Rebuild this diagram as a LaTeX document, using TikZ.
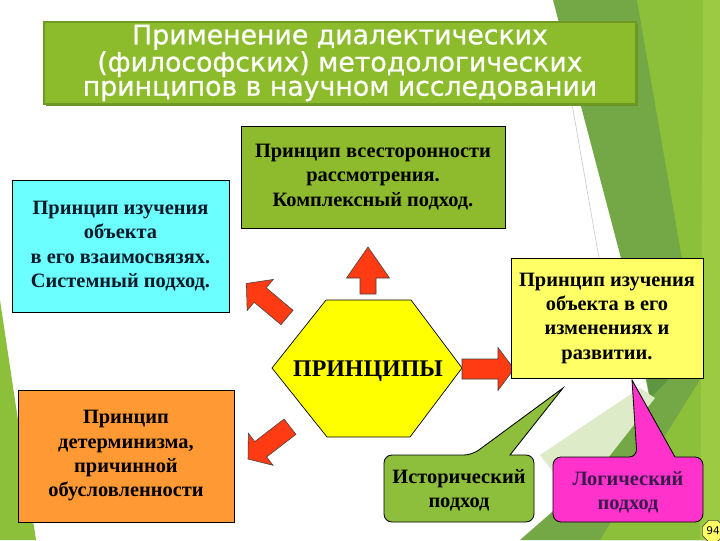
\documentclass[tikz,border=0pt]{standalone}
\usepackage{fontspec}
\setmainfont{Liberation Serif}
\newfontfamily\titlefont{DejaVu Sans}[FakeBold=0.8]
\newfontfamily\pagefont{DejaVu Sans}
\usetikzlibrary{shapes.geometric}
\definecolor{titlegreen}{HTML}{8CBC2C}
\definecolor{titleedge}{HTML}{6E9A22}
\definecolor{titleshadow}{HTML}{6A9228}
\definecolor{boxgreen}{HTML}{8DBB2D}
\definecolor{boxcyan}{HTML}{6CFFFF}
\definecolor{boxyellow}{HTML}{FFFF66}
\definecolor{boxorange}{HTML}{FF9933}
\definecolor{hexyellow}{HTML}{FFFF00}
\definecolor{arrowred}{HTML}{FF3B14}
\definecolor{callgreen}{HTML}{8DBE3C}
\definecolor{callmagenta}{HTML}{FF33CC}
\definecolor{magtext}{HTML}{3C1A4E}
\definecolor{cyantext}{HTML}{0A1A28}
\definecolor{bgA}{HTML}{74A846}
\definecolor{bgB}{HTML}{8CBF3A}
\definecolor{bgC}{HTML}{9CCB43}
\definecolor{bgD}{HTML}{5F9440}
\definecolor{bgpale}{HTML}{DDEBC9}
\definecolor{bgleft}{HTML}{8DC03A}
\definecolor{pagebg}{HTML}{FFFF66}
\def\pu{0.025cm}
\newcommand\redblockarrow[7]{%
  \begin{scope}[shift={(#1,#2)},rotate=#3]
    \draw[redarrow] (0,-#5) -- (#4,-#5) -- (#4,-#6) -- ({#4+#7},0) -- (#4,#6) -- (#4,#5) -- (0,#5) -- cycle;
  \end{scope}}
\begin{document}
\begin{tikzpicture}[x=0.025cm,y=-0.025cm,
  box/.style={draw=black, line width=0.6pt, align=center, inner sep=0pt,
    font=\bfseries\fontsize{14.5}{17.3}\selectfont},
  callout/.style={draw=black, line width=0.6pt},
  redarrow/.style={fill=arrowred, draw=black!75, line width=0.4pt, line join=miter},
  titletext/.style={align=center, inner sep=0pt, text=white,
    font=\titlefont\fontsize{19}{17.2}\selectfont}]
\useasboundingbox (0,0) rectangle (720,540);
\clip (0,0) rectangle (720,540);
% background facets
\fill[white] (0,0) rectangle (720,540);
\fill[bgA] (553,0) -- (720,0) -- (720,540) -- (520,540) -- (560,505) -- (650,400) -- (622,262) -- cycle;
\fill[bgB] (637,0) -- (720,0) -- (720,540) -- (600,540) -- (700,380) -- (684,270) -- cycle;
\fill[bgC] (703,0) -- (720,0) -- (720,540) -- (700,540) -- cycle;
\fill[bgD] (627,262) -- (684,270) -- (668,380) -- (650,398) -- cycle;
\fill[bgpale] (540,455) -- (640,388) -- (655,398) -- (575,500) -- cycle;
\fill[bgleft] (0,300) -- (36,540) -- (0,540) -- cycle;
\draw[gray!45, line width=0.4pt] (572,104) -- (620,378);
% title
\fill[titleshadow] (46,24) rectangle (638,106);
\node[titletext, fill=titlegreen, draw=titleedge, line width=0.8pt,
  minimum width=592*\pu, minimum height=82*\pu] (title) at (340,63)
  {Применение диалектических\\(философских) методологических\\принципов в научном исследовании};
% principle boxes
\node[box, fill=boxgreen, minimum width=264*\pu, minimum height=102*\pu] (compl) at (373,177)
  {Принцип всесторонности\\рассмотрения.\\Комплексный подход.};
\node[box, fill=boxcyan, text=cyantext, minimum width=217*\pu, minimum height=132*\pu] (sys) at (120.5,246)
  {Принцип изучения\\объекта\\в его взаимосвязях.\\Системный подход.};
\node[box, fill=boxorange, minimum width=216*\pu, minimum height=132*\pu] (det) at (126,456)
  {Принцип\\детерминизма,\\причинной\\обусловленности};
% hexagon
\path[fill=hexyellow, draw=black, line width=0.5pt]
  (272,368) -- (326,300) -- (411,300) -- (462,368) -- (410,437) -- (327,437) -- cycle;
\node[inner sep=0pt, font=\bfseries\fontsize{17}{20}\selectfont] (hex) at (368,371) {ПРИНЦИПЫ};
% block arrows
\redblockarrow{368}{294}{90}{16}{8}{21.5}{31}
\redblockarrow{287}{317.5}{140}{35}{9.4}{20.3}{18}
\redblockarrow{290}{426.7}{217.6}{37}{9.7}{20.2}{16}
\redblockarrow{462}{369}{0}{36}{10}{21.5}{16}
% right box
\node[box, fill=boxyellow, minimum width=192*\pu, minimum height=120*\pu] (dev) at (607,318)
  {Принцип изучения\\объекта в его\\изменениях и\\развитии.};
% callouts
\draw[callout, fill=callgreen] (384,488) [rounded corners=8*\pu] -- (384,455) -- (472,455)
  [sharp corners] -- (563,388) -- (510,455) [rounded corners=8*\pu] -- (534,455) -- (534,522) -- (384,522) -- cycle;
\node[box, draw=none, align=center] (hist) at (459,490) {Исторический\\подход};
\draw[callout, fill=callmagenta] (553,490) [rounded corners=8*\pu] -- (553,457) -- (637,457)
  [sharp corners] -- (632,380) -- (675,457) [rounded corners=8*\pu] -- (703,457) -- (703,522) -- (553,522) -- cycle;
\node[box, draw=none, text=magtext, align=center] (logic) at (628,492) {Логический\\подход};
% page number
\node[regular polygon, regular polygon sides=8, minimum size=23*\pu, inner sep=0pt,
  fill=pagebg, draw=black!60!yellow!60!black, line width=0.5pt,
  font=\pagefont\fontsize{7.5}{8}\selectfont] (page) at (713,531) {94};
\end{tikzpicture}
\end{document}
